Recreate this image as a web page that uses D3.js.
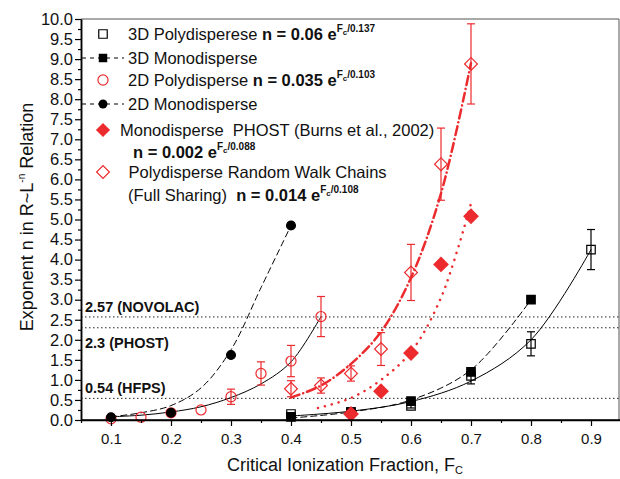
<!DOCTYPE html>
<html>
<head>
<meta charset="utf-8">
<script src="https://cdn.jsdelivr.net/npm/d3@7"></script>
<style>
  body { margin: 0; background: #fff; }
  svg { display: block; font-family: "Liberation Sans", Arial, sans-serif; }
</style>
</head>
<body>
<div id="chart"></div>
<script>
/* data */
const fc3DPoly = [0.4, 0.5, 0.6, 0.7, 0.8, 0.9];
const n3DPoly = [0.15, 0.2, 0.35, 1.1, 1.9, 4.25];
const err3DPoly = [0, 0, 0.05, 0.2, 0.3, 0.5];

const fc3DMono = [0.4, 0.5, 0.6, 0.7, 0.8];
const n3DMono = [0.08, 0.2, 0.47, 1.2, 3.0];

const fc2DPoly = [0.1, 0.15, 0.2, 0.25, 0.3, 0.35, 0.4, 0.45];
const n2DPoly = [0.03, 0.07, 0.18, 0.25, 0.58, 1.16, 1.47, 2.58];
const err2DPoly = [0, 0, 0, 0, 0.19, 0.29, 0.39, 0.5];

const fc2DMono = [0.1, 0.2, 0.3, 0.4];
const n2DMono = [0.07, 0.18, 1.62, 4.85];

const fcPhost = [0.5, 0.55, 0.6, 0.65, 0.7];
const nPhost = [0.15, 0.72, 1.67, 3.88, 5.08];

const fcWalk = [0.4, 0.45, 0.5, 0.55, 0.6, 0.65, 0.7];
const nWalk = [0.78, 0.86, 1.16, 1.77, 3.68, 6.38, 8.88];
const errWalk = [0.2, 0.19, 0.19, 0.41, 0.7, 0.9, 1.0];

/* fitted curves */
const fit3DPolyFc = [0.4, 0.5, 0.6, 0.7, 0.8, 0.9];
const fit3DPolyN = [0.1, 0.22, 0.46, 0.97, 2.0, 4.25];
const fit3DMonoFc = [0.4, 0.5, 0.6, 0.7, 0.8];
const fit3DMonoN = [0.05, 0.2, 0.5, 1.25, 3.0];
const fit2DPolyFc = [0.1, 0.15, 0.2, 0.25, 0.3, 0.35, 0.4, 0.45];
const fit2DPolyN = [0.08, 0.12, 0.2, 0.33, 0.56, 0.9, 1.45, 2.58];
const fit2DMonoFc = [0.1, 0.15, 0.2, 0.25, 0.3, 0.35, 0.4];
const fit2DMonoN = [0.08, 0.18, 0.36, 0.8, 1.75, 3.3, 4.85];
const fitPhostFc = [0.445, 0.5, 0.55, 0.6, 0.65, 0.7];
const fitPhostN = [0.3, 0.55, 1.0, 1.7, 3.05, 5.4];
const fitWalkFc = [0.4, 0.45, 0.5, 0.55, 0.6, 0.65, 0.7];
const fitWalkN = [0.56, 0.86, 1.4, 2.2, 3.55, 5.65, 8.9];

/* reference levels */
const refValues = [2.57, 2.3, 0.54];
const refLabels = ["2.57 (NOVOLAC)", "2.3 (PHOST)", "0.54 (HFPS)"];

const xTicks = [0.1, 0.2, 0.3, 0.4, 0.5, 0.6, 0.7, 0.8, 0.9];
const yTicks = d3.range(0, 10.01, 0.5);

//---------------------------------
const w = 620;
const h = 479;
const red = "#ec2b2e";
const padLeft = 81, padRight = 621, padTop = 19, padBottom = 420;

const x = d3.scaleLinear().domain([0.05, 0.95]).range([padLeft, padRight]);
const y = d3.scaleLinear().domain([0, 10]).range([padBottom, padTop]);

const svg = d3.select("#chart").append("svg")
  .attr("width", w)
  .attr("height", h);

const zip = (a, b) => a.map((v, i) => ({fc: v, n: b[i]}));

// frame
svg.append("path")
  .attr("d", `M${padLeft},${padTop}H${w - 1}V${padBottom}`)
  .attr("fill", "none")
  .attr("stroke", "#555")
  .attr("stroke-width", 1);

// reference lines
svg.append("g").selectAll("line")
  .data(refValues).enter()
  .append("line")
  .attr("x1", padLeft).attr("x2", w)
  .attr("y1", d => y(d)).attr("y2", d => y(d))
  .attr("stroke", "#222")
  .attr("stroke-width", 1)
  .attr("stroke-dasharray", "1.5,2.5");

svg.append("g").selectAll("text")
  .data(refValues).enter()
  .append("text")
  .attr("x", padLeft + 4)
  .attr("y", (d, i) => i === 1 ? y(d) + 20 : y(d) - 5)
  .attr("font-size", 14.5)
  .attr("font-weight", "bold")
  .attr("fill", "#111")
  .text((d, i) => refLabels[i]);

// fit curves
const line = d3.line()
  .x(d => x(d.fc))
  .y(d => y(d.n))
  .curve(d3.curveCatmullRom);

const fits = [
  {fc: fit3DPolyFc, n: fit3DPolyN, color: "#000", width: 1, dash: null},
  {fc: fit3DMonoFc, n: fit3DMonoN, color: "#000", width: 1, dash: "6,4"},
  {fc: fit2DPolyFc, n: fit2DPolyN, color: "#000", width: 1, dash: null},
  {fc: fit2DMonoFc, n: fit2DMonoN, color: "#000", width: 1, dash: "6,4"},
  {fc: fitPhostFc, n: fitPhostN, color: red, width: 2.5, dash: "0.1,7"},
  {fc: fitWalkFc, n: fitWalkN, color: red, width: 2.5, dash: "9,4,0.1,4"}
];

svg.append("g").selectAll("path")
  .data(fits).enter()
  .append("path")
  .attr("d", d => line(zip(d.fc, d.n)))
  .attr("fill", "none")
  .attr("stroke", d => d.color)
  .attr("stroke-width", d => d.width)
  .attr("stroke-linecap", "round")
  .attr("stroke-dasharray", d => d.dash);

// error bars
function errorBars(fc, n, err, color) {
  const data = fc.map((v, i) => ({fc: v, n: n[i], e: err[i]})).filter(d => d.e > 0);
  const g = svg.append("g").attr("stroke", color).attr("stroke-width", 1.2);
  g.selectAll(".v").data(data).enter().append("line")
    .attr("x1", d => x(d.fc)).attr("x2", d => x(d.fc))
    .attr("y1", d => y(d.n - d.e)).attr("y2", d => y(d.n + d.e));
  g.selectAll(".t").data(data).enter().append("line")
    .attr("x1", d => x(d.fc) - 4).attr("x2", d => x(d.fc) + 4)
    .attr("y1", d => y(d.n + d.e)).attr("y2", d => y(d.n + d.e));
  g.selectAll(".b").data(data).enter().append("line")
    .attr("x1", d => x(d.fc) - 4).attr("x2", d => x(d.fc) + 4)
    .attr("y1", d => y(d.n - d.e)).attr("y2", d => y(d.n - d.e));
}
errorBars(fc2DPoly, n2DPoly, err2DPoly, red);
errorBars(fcWalk, nWalk, errWalk, red);
errorBars(fc3DPoly, n3DPoly, err3DPoly, "#000");

// markers
const sym = {
  square: d3.symbol().type(d3.symbolSquare).size(72),
  circle: d3.symbol().type(d3.symbolCircle).size(80),
  dot: d3.symbol().type(d3.symbolCircle).size(62),
  diamond: d3.symbol().type(d3.symbolSquare).size(82),
  diamondBig: d3.symbol().type(d3.symbolSquare).size(100)
};
const rot = shape => shape.startsWith("diamond") ? " rotate(45)" : "";

function markers(fc, n, shape, fill, stroke) {
  svg.append("g").selectAll("path")
    .data(zip(fc, n)).enter()
    .append("path")
    .attr("d", sym[shape])
    .attr("transform", d => `translate(${x(d.fc)},${y(d.n)})${rot(shape)}`)
    .attr("fill", fill)
    .attr("stroke", stroke)
    .attr("stroke-width", 1.2);
}
markers(fc2DPoly, n2DPoly, "circle", "none", red);
markers(fcWalk, nWalk, "diamond", "none", red);
markers(fc3DPoly, n3DPoly, "square", "none", "#000");
markers(fc3DMono, n3DMono, "square", "#000", "#000");
markers(fc2DMono, n2DMono, "dot", "#000", "#000");
markers(fcPhost, nPhost, "diamondBig", red, red);

//--------------------------------
/* axes */
const xAxis = d3.axisBottom(x).tickValues(xTicks).tickSize(6).tickPadding(7)
  .tickSizeOuter(0).tickFormat(d3.format(".1f"));
const xMinor = d3.axisBottom(x).tickValues(xTicks.map(v => v + 0.05).slice(0, 8).concat([0.05]))
  .tickSize(3).tickSizeOuter(0).tickFormat("");
const yAxis = d3.axisLeft(y).tickValues(yTicks).tickSize(6).tickPadding(2)
  .tickSizeOuter(0).tickFormat(d3.format(".1f"));
const yMinor = d3.axisLeft(y).tickValues(yTicks.slice(0, 20).map(v => v + 0.25))
  .tickSize(3).tickSizeOuter(0).tickFormat("");

svg.append("g").attr("transform", `translate(0,${padBottom})`).call(xMinor);
const gx = svg.append("g").attr("transform", `translate(0,${padBottom})`).call(xAxis);
svg.append("g").attr("transform", `translate(${padLeft},0)`).call(yMinor);
const gy = svg.append("g").attr("transform", `translate(${padLeft},0)`).call(yAxis);

svg.selectAll(".domain").attr("stroke", "#000").attr("stroke-width", 1.5);
svg.selectAll(".tick line").attr("stroke", "#000").attr("stroke-width", 1.2);
gx.selectAll("text").attr("font-size", 15).attr("font-family", null).attr("fill", "#111");
gy.selectAll("text").attr("font-size", 16.5).attr("font-family", null).attr("fill", "#111");
gx.select(".domain").attr("d", `M${padLeft},0H${w}`);

// axis titles
const xt = svg.append("text")
  .attr("x", 227).attr("y", 471)
  .attr("font-size", 18).attr("fill", "#111");
xt.append("tspan").text("Critical Ionization Fraction, F");
xt.append("tspan").attr("font-size", 11).attr("dy", 3).text("C");

const yt = svg.append("text")
  .attr("transform", "translate(33,217) rotate(-90)")
  .attr("text-anchor", "middle")
  .attr("font-size", 18).attr("fill", "#111");
yt.append("tspan").text("Exponent n in R~L");
yt.append("tspan").attr("font-size", 10).attr("dy", -8).text("-n");
yt.append("tspan").attr("dy", 8).text(" Relation");

//---------------------------------
/* legend */
const legX = 103;
const lg = svg.append("g");

function eq(t, a, b) {
  t.append("tspan").attr("font-weight", "bold").attr("font-stretch", "condensed").text(a);
  t.append("tspan").attr("font-weight", "bold").attr("font-size", 10).attr("dy", -8).text("F");
  t.append("tspan").attr("font-weight", "bold").attr("font-size", 8).attr("dy", 3).text("c");
  t.append("tspan").attr("font-weight", "bold").attr("font-size", 10).attr("dy", -3).text(b);
}

function legText(px, py, s) {
  return lg.append("text").attr("x", px).attr("y", py + 6)
    .attr("font-size", 16.5).attr("fill", "#111").text(s);
}

// row 1
lg.append("path").attr("d", sym.square).attr("transform", `translate(${legX},34)`)
  .attr("fill", "none").attr("stroke", "#000").attr("stroke-width", 1.2);
eq(legText(128, 34, "3D Polydisperese "), "n = 0.06 e", "/0.137");
// row 2
lg.append("line").attr("x1", padLeft + 1).attr("x2", 124).attr("y1", 58).attr("y2", 58)
  .attr("stroke", "#000").attr("stroke-dasharray", "4,4");
lg.append("path").attr("d", sym.square).attr("transform", `translate(${legX},58)`)
  .attr("fill", "#000");
legText(128, 58, "3D Monodisperse");
// row 3
lg.append("path").attr("d", sym.circle).attr("transform", `translate(${legX},80)`)
  .attr("fill", "none").attr("stroke", red).attr("stroke-width", 1.2);
eq(legText(128, 80, "2D Polydisperse "), "n = 0.035 e", "/0.103");
// row 4
lg.append("line").attr("x1", padLeft + 1).attr("x2", 124).attr("y1", 104).attr("y2", 104)
  .attr("stroke", "#000").attr("stroke-dasharray", "4,4");
lg.append("path").attr("d", sym.dot).attr("transform", `translate(${legX},104)`)
  .attr("fill", "#000");
legText(128, 104, "2D Monodisperse");
// row 5
lg.append("path").attr("d", sym.diamondBig).attr("transform", `translate(${legX},130) rotate(45)`)
  .attr("fill", red);
legText(120, 130, "Monodisperse\u00a0\u00a0PHOST (Burns et al., 2002)");
eq(legText(133, 152, ""), "n = 0.002 e", "/0.088");
// row 6
lg.append("path").attr("d", sym.diamond).attr("transform", `translate(${legX},172) rotate(45)`)
  .attr("fill", "none").attr("stroke", red).attr("stroke-width", 1.2);
legText(124, 172, "\u00a0Polydisperse Random Walk Chains");
eq(legText(128, 195, "(Full Sharing)\u00a0\u00a0"), "n = 0.014 e", "/0.108");
</script>
</body>
</html>
